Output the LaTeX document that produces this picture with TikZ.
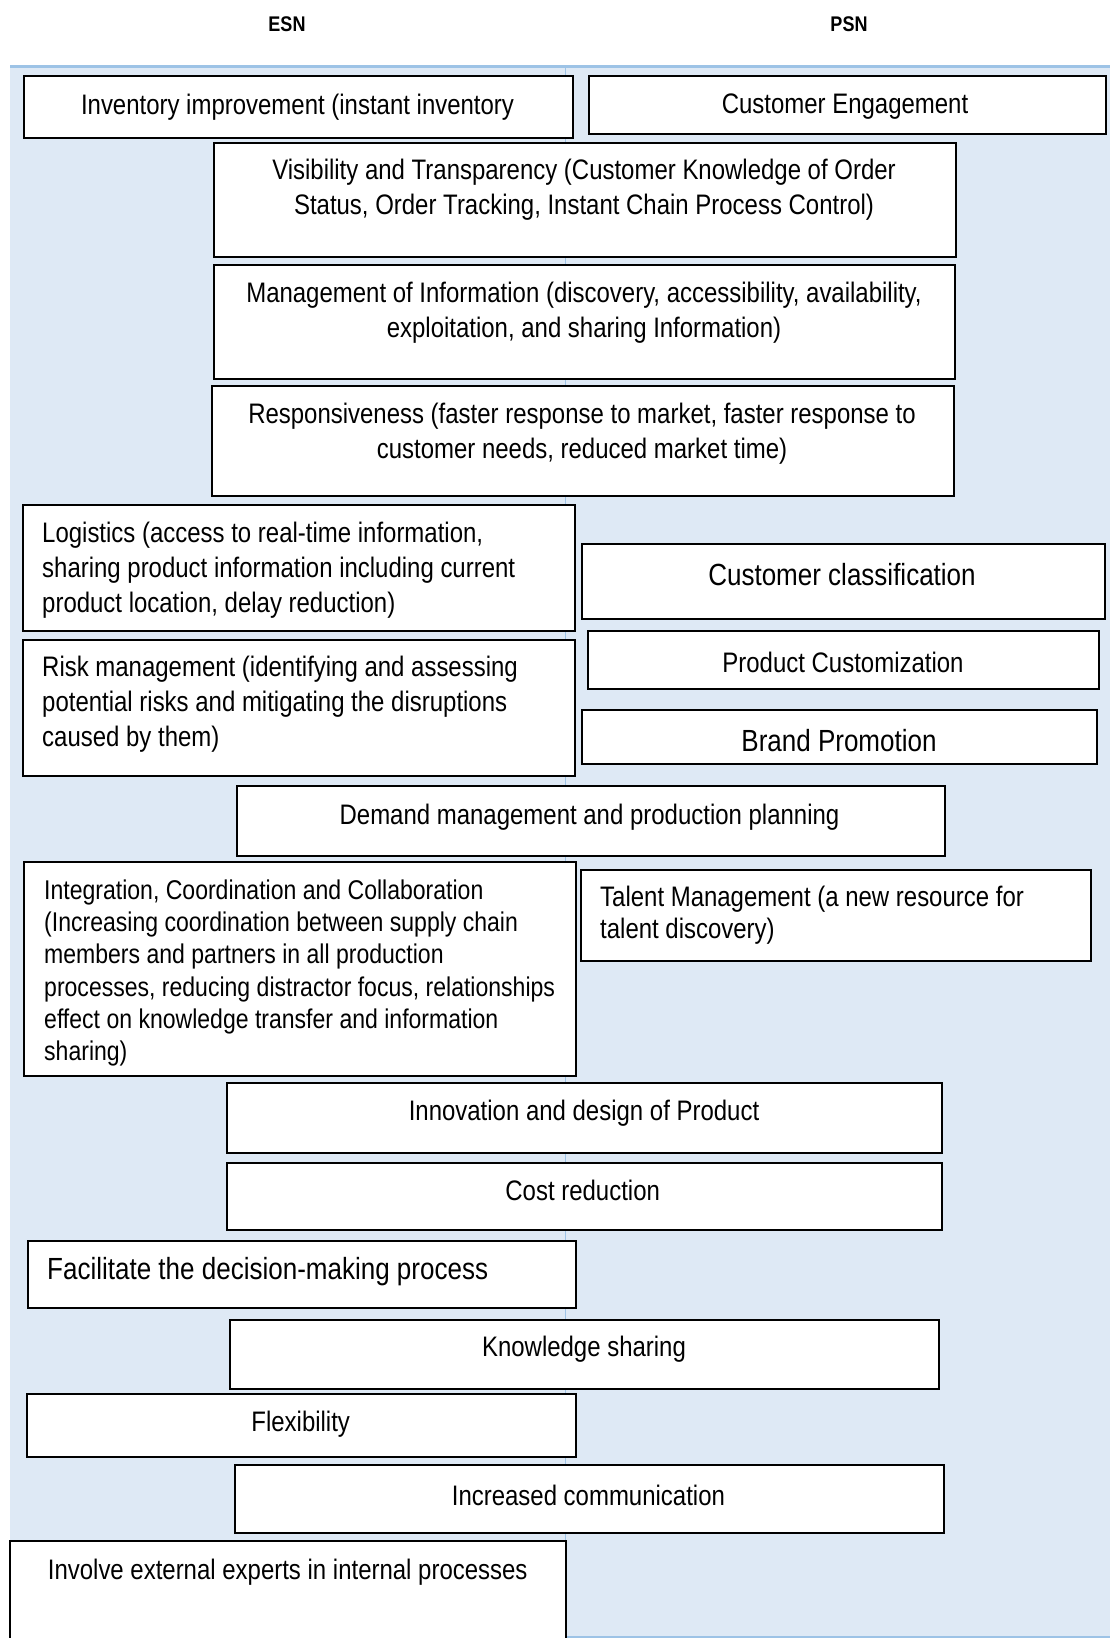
\documentclass[tikz,border=0pt]{standalone}
\usepackage{fontspec}
\setmainfont[FakeStretch=0.85]{Liberation Sans}
\definecolor{bgblue}{HTML}{DEE9F5}
\definecolor{lineblue}{HTML}{9DC3E6}
\tikzset{
  box/.style={draw=black, line width=1.8pt, fill=white, inner sep=0pt, anchor=north west},
  txt/.style={font=\fontsize{28.2}{35}\selectfont, inner sep=0pt, align=center, text=black},
  txtl/.style={font=\fontsize{28.2}{35}\selectfont, inner sep=0pt, align=left, anchor=west, text=black},
  big/.style={font=\fontsize{30.6}{34}\selectfont, inner sep=0pt, align=center, text=black},
  head/.style={font=\fontsize{21.2}{24}\selectfont\bfseries, inner sep=0pt}
}
\begin{document}
\begin{tikzpicture}[x=1pt,y=-1pt]
\useasboundingbox (0,0) rectangle (1110,1638);
% background panel
\fill[bgblue] (10,66) rectangle (1110,1638);
\draw[lineblue, line width=3pt] (10,66) -- (1110,66);
\draw[lineblue, line width=0.8pt] (565,66) -- (565,1540);
\draw[lineblue, line width=1.2pt] (565,1637) -- (1110,1637);
% headers
\node[head] (esn) at (287,24) {ESN};
\node[head] (psn) at (849,24) {PSN};
% boxes
\node[box, minimum width=549, minimum height=62] (inv) at (23,75) {};
\node[box, minimum width=517, minimum height=58] (ceng) at (588,75) {};
\node[box, minimum width=742, minimum height=114] (vis) at (213,142) {};
\node[box, minimum width=741, minimum height=114] (mgmt) at (213,264) {};
\node[box, minimum width=742, minimum height=110] (resp) at (211,385) {};
\node[box, minimum width=552, minimum height=126] (logi) at (22,504) {};
\node[box, minimum width=523, minimum height=75] (ccls) at (581,543) {};
\node[box, minimum width=552, minimum height=136] (risk) at (22,639) {};
\node[box, minimum width=511, minimum height=58] (pcus) at (587,630) {};
\node[box, minimum width=515, minimum height=54] (brand) at (581,709) {};
\node[box, minimum width=708, minimum height=70] (demand) at (236,785) {};
\node[box, minimum width=552, minimum height=214] (integ) at (23,861) {};
\node[box, minimum width=510, minimum height=91] (talent) at (580,869) {};
\node[box, minimum width=715, minimum height=70] (innov) at (226,1082) {};
\node[box, minimum width=715, minimum height=67] (cost) at (226,1162) {};
\node[box, minimum width=548, minimum height=67] (facil) at (27,1240) {};
\node[box, minimum width=709, minimum height=69] (know) at (229,1319) {};
\node[box, minimum width=549, minimum height=63] (flex) at (26,1393) {};
\node[box, minimum width=709, minimum height=68] (comm) at (234,1464) {};
\node[box, minimum width=556, minimum height=110] (involve) at (9,1540) {};
% texts
\begin{scope}[yshift=-3pt]
\node[txt] (tinv) at (297.5,104) {Inventory improvement (instant inventory};
\node[txt] (tceng) at (845,104) {Customer Engagement};
\node[txt] (tvis) at (584,187) {Visibility and Transparency (Customer Knowledge of Order\\Status, Order Tracking, Instant Chain Process Control)};
\node[txt] (tmgmt) at (584,310) {Management of Information (discovery, accessibility, availability,\\exploitation, and sharing Information)};
\node[txt] (tresp) at (582,431) {Responsiveness (faster response to market, faster response to\\customer needs, reduced market time)};
\node[txtl] (tlogi) at (42,567) {Logistics (access to real-time information,\\sharing product information including current\\product location, delay reduction)};
\node[big] (tccls) at (842,572) {Customer classification};
\node[txtl] (trisk) at (42,701) {Risk management (identifying and assessing\\potential risks and mitigating the disruptions\\caused by them)};
\node[txt] (tpcus) at (843,659) {Product Customization};
\node[big] (tbrand) at (839,738) {Brand Promotion};
\node[txt] (tdemand) at (589.5,814.5) {Demand management and production planning};
\node[txtl, font=\fontsize{27.1}{32.2}\selectfont] (tinteg) at (44,970) {Integration, Coordination and Collaboration\\(Increasing coordination between supply chain\\members and partners in all production\\processes, reducing distractor focus, relationships\\effect on knowledge transfer and information\\sharing)};
\node[txtl, font=\fontsize{28.2}{32.3}\selectfont] (ttalent) at (600,912) {Talent Management (a new resource for\\talent discovery)};
\node[txt] (tinnov) at (584,1110) {Innovation and design of Product};
\node[txt] (tcost) at (582.7,1187) {Cost reduction};
\node[big, anchor=west] (tfacil) at (47,1268.7) {Facilitate the decision-making process};
\node[txt] (tknow) at (584,1346) {Knowledge sharing};
\node[txt] (tflex) at (300.7,1421) {Flexibility};
\node[txt] (tcomm) at (588.4,1492) {Increased communication};
\node[txt] (tinvolve) at (287.7,1569.5) {Involve external experts in internal processes};
\end{scope}
\end{tikzpicture}
\end{document}
